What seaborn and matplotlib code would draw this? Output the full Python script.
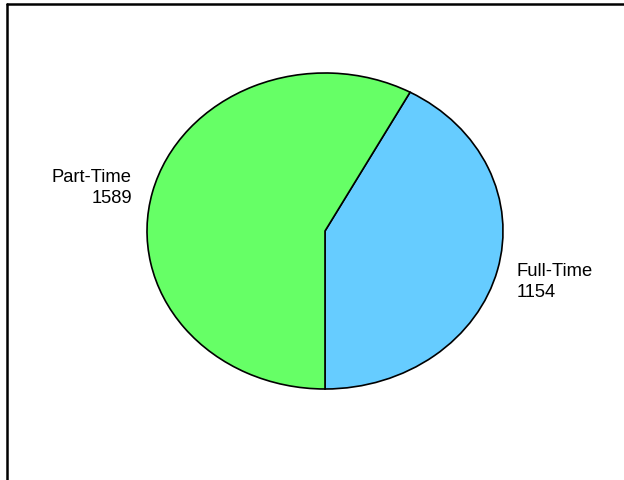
import matplotlib
matplotlib.use("Agg")
import matplotlib.pyplot as plt
import seaborn as sns
from matplotlib.lines import Line2D

categories = ["Full-Time", "Part-Time"]
values = [1154, 1589]
colors = ["#66CCFF", "#66FF66"]

sns.set_theme(style="white")
plt.rcParams["font.family"] = ["Liberation Sans", "DejaVu Sans"]

W, H = 624, 481
fig = plt.figure(figsize=(W / 100, H / 100), dpi=100)
ax = fig.add_axes([0, 0, 1, 1])

labels = [f"{c}\n{v}" for c, v in zip(categories, values)]
wedges, texts = ax.pie(
    values, labels=labels, colors=colors, startangle=-90, counterclock=True,
    labeldistance=1.12,
    wedgeprops=dict(edgecolor="black", linewidth=1.2),
    textprops=dict(fontsize=13.2, color="black", linespacing=1.3),
)
ax.set_aspect("auto")
cx, cy, rx, ry = 325, 232, 178, 158
ax.set_xlim(-cx / rx, (W - cx) / rx)
ax.set_ylim((cy - H) / ry, cy / ry)
ax.axis("off")

# nudge the Full-Time label slightly lower, as in the reference
x0, y0 = texts[0].get_position()
texts[0].set_position((x0 - 2 / rx, y0 - 6 / ry))

# frame lines (top and left)
fig.add_artist(Line2D([7 / W, 1], [1 - 5 / H, 1 - 5 / H], color="black", lw=1.8,
                      transform=fig.transFigure))
fig.add_artist(Line2D([7 / W, 7 / W], [0, 1 - 5 / H], color="black", lw=1.8,
                      transform=fig.transFigure))

fig.savefig("out.png", dpi=100, facecolor="white")
